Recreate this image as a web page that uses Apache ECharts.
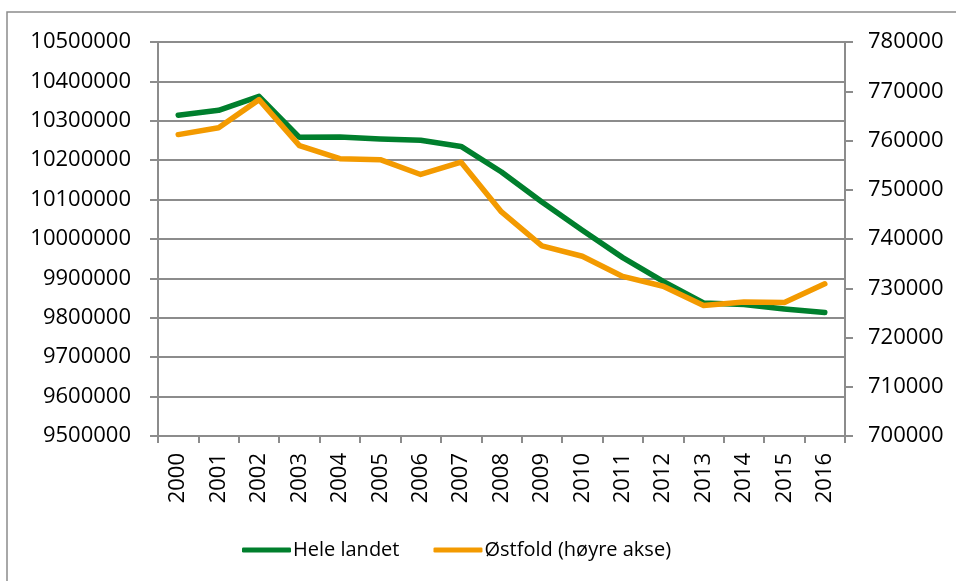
<!DOCTYPE html>
<html>
<head>
<meta charset="utf-8">
<script src="https://cdn.jsdelivr.net/npm/echarts@6/dist/echarts.min.js"></script>
<style>
html,body{margin:0;padding:0;background:#fff;}
#chart{width:956px;height:581px;}
</style>
</head>
<body>
<div id="chart"></div>
<script>
const years = ['2000','2001','2002','2003','2004','2005','2006','2007','2008','2009','2010','2011','2012','2013','2014','2015','2016'];
const heleLandet = [10314000,10326600,10362000,10258000,10259000,10254000,10250500,10235000,10170000,10094000,10022000,9952800,9892600,9837600,9833500,9822300,9813200];
const ostfold = [761200,762600,768300,758960,756300,756100,753100,755600,745500,738600,736500,732400,730400,726500,727200,727100,730900];
const seriesNames = ['Hele landet','Østfold (høyre akse)'];

const FONT = 'Open Sans';
const axisGray = '#8c8c8c';
const plain = v => String(v);
const chart = echarts.init(document.getElementById('chart'), null, {renderer:'canvas'});
chart.setOption({
  animation:false,
  backgroundColor:'#ffffff',
  textStyle:{fontFamily:FONT},
  graphic:[{type:'rect',shape:{x:7,y:12,width:980,height:600},style:{fill:'none',stroke:'#8c8c8c',lineWidth:1.5},silent:true,z:-1}],
  grid:{left:158,right:111,top:42,bottom:145,containLabel:false,outerBoundsMode:'none'},
  legend:{
    top:535,left:237,itemWidth:49,itemHeight:5,itemGap:34,icon:'roundRect',
    textStyle:{fontFamily:FONT,fontSize:20,color:'#000',padding:[0,0,0,-3]},
    data:seriesNames
  },
  xAxis:{
    type:'category',data:years,boundaryGap:true,
    axisLine:{lineStyle:{color:axisGray,width:2}},
    axisTick:{show:true,length:7,interval:0,lineStyle:{color:axisGray,width:2}},
    axisLabel:{rotate:90,margin:17,interval:0,fontFamily:FONT,fontSize:22,color:'#000'}
  },
  yAxis:[{
    type:'value',min:9500000,max:10500000,interval:100000,position:'left',
    axisLine:{show:true,lineStyle:{color:axisGray,width:2}},
    axisTick:{show:true,length:8,lineStyle:{color:axisGray,width:2}},
    splitLine:{show:true,lineStyle:{color:axisGray,width:2}},
    axisLabel:{margin:27,formatter:plain,fontFamily:FONT,fontSize:22,color:'#000'}
  },{
    type:'value',min:700000,max:780000,interval:10000,position:'right',
    axisLine:{show:true,lineStyle:{color:axisGray,width:2}},
    axisTick:{show:true,length:8,lineStyle:{color:axisGray,width:2}},
    splitLine:{show:false},
    axisLabel:{margin:23,formatter:plain,fontFamily:FONT,fontSize:22,color:'#000'}
  }],
  series:[{
    name:seriesNames[0],type:'line',yAxisIndex:0,data:heleLandet,
    symbol:'none',lineStyle:{color:'#007F2D',width:5.5,cap:'round',join:'round'},itemStyle:{color:'#007F2D'},z:2
  },{
    name:seriesNames[1],type:'line',yAxisIndex:1,data:ostfold,
    symbol:'none',lineStyle:{color:'#F39A00',width:5.5,cap:'round',join:'round'},itemStyle:{color:'#F39A00'},z:3
  }]
});
</script>
</body>
</html>
